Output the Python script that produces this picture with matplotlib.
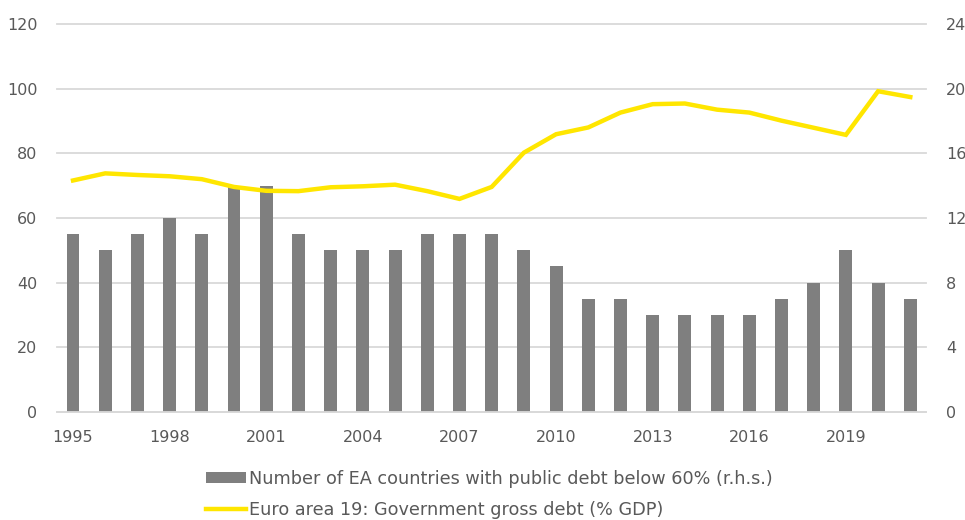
import numpy as np
import matplotlib
matplotlib.use("Agg")
import matplotlib.pyplot as plt
from matplotlib.patches import Patch
from matplotlib.lines import Line2D

# данные
years = list(range(1995, 2022))
n_countries = [11, 10, 11, 12, 11, 14, 14, 11, 10, 10, 10, 11, 11, 11, 10, 9,
               7, 7, 6, 6, 6, 6, 7, 8, 10, 8, 7]
ea_debt = [71.6, 73.8, 73.3, 72.9, 72.0, 69.6, 68.4, 68.3, 69.5, 69.8, 70.3, 68.3,
           65.9, 69.6, 80.2, 85.9, 88.0, 92.6, 95.2, 95.4, 93.5, 92.6, 90.1, 87.9,
           85.7, 99.2, 97.4]
year_labels = [str(y) if (y - 1995) % 3 == 0 else "" for y in years]

grey_txt = "#595959"
bar_col = "#7f7f7f"
line_col = "#FFE600"

plt.rcParams['font.family'] = ['DejaVu Sans']

fig = plt.figure(figsize=(9.65, 5.2), dpi=100)
ax = fig.add_axes([0.059, 0.2077, 0.901, 0.7462])
ax2 = ax.twinx()

x = np.arange(len(years))

ax2.bar(x, n_countries, width=0.4, color=bar_col, zorder=2)
ax2.set_ylim(0, 24)
ax2.set_yticks(range(0, 25, 4))
ax2.grid(axis='y', color="#d9d9d9", linewidth=1.3, zorder=0, clip_on=False)
ax2.set_axisbelow(True)

ax.plot(x, ea_debt, color=line_col, linewidth=3.2, solid_joinstyle='miter', zorder=3)
ax.set_ylim(0, 120)
ax.set_yticks(range(0, 121, 20))
ax.set_xlim(-0.5, len(years) - 0.5)
ax.set_xticks(x)
ax.set_xticklabels(year_labels)

ax.set_zorder(ax2.get_zorder() + 1)
ax.patch.set_visible(False)

for a in (ax, ax2):
    for s in a.spines.values():
        s.set_visible(False)
    a.tick_params(length=0, colors=grey_txt, labelsize=11.5)
ax.tick_params(axis='y', pad=14)
ax2.tick_params(axis='y', pad=14)
ax.tick_params(axis='x', pad=13)
ax.spines['bottom'].set_visible(True)
ax.spines['bottom'].set_color("#d9d9d9")
ax.spines['bottom'].set_linewidth(1.3)

handles = [Patch(facecolor=bar_col, edgecolor='none'),
           Line2D([0], [0], color=line_col, linewidth=3.2)]
labels = ["Number of EA countries with public debt below 60% (r.h.s.)",
          "Euro area 19: Government gross debt (% GDP)"]
fig.legend(handles, labels, loc='upper left', bbox_to_anchor=(0.206, 0.11),
           frameon=False, fontsize=12.7, labelcolor=grey_txt, handlelength=2.3,
           handleheight=0.6, handletextpad=0.15, labelspacing=0.75, borderaxespad=0)

fig.savefig("out.png", dpi=100)
